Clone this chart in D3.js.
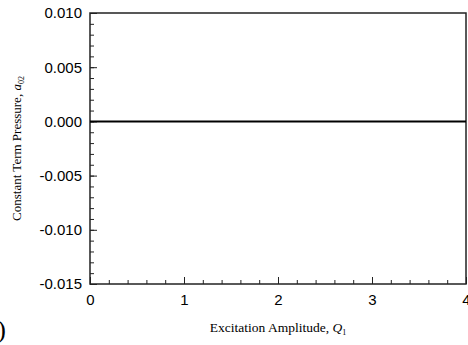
<!DOCTYPE html>
<html>
<head>
<meta charset="utf-8">
<script src="https://cdn.jsdelivr.net/npm/d3@7"></script>
<style>
  body { margin: 0; background: #fff; }
  svg { display: block; }
</style>
</head>
<body>
<div id="chart"></div>
<script>
// data: constant term stays at zero
var amplitude = [0, 0.5, 1, 1.5, 2, 2.5, 3, 3.5, 4];
var a02 = [0, 0, 0, 0, 0, 0, 0, 0, 0];
var xTicks = [0, 1, 2, 3, 4];
var yTicks = [-0.015, -0.010, -0.005, 0.000, 0.005, 0.010];

var width = 468;
var height = 345;
var margin = { top: 13, right: 2, bottom: 61, left: 90 };

var svg = d3.select("#chart").append("svg")
    .attr("width", width)
    .attr("height", height);

var x = d3.scaleLinear().domain([0, 4]).range([margin.left, width - margin.right]);
var y = d3.scaleLinear().domain([-0.015, 0.010]).range([height - margin.bottom, margin.top]);

var axisColor = "#222";
var sans = "'Liberation Sans', Arial, sans-serif";
var serif = "'Liberation Serif', 'Times New Roman', serif";

// minor ticks
var xMinor = d3.range(0, 4.0001, 0.2);
var yMinor = d3.range(-0.015, 0.0100001, 0.001);

var fmtY = function (d) { return d3.format(".3f")(d).replace("\u2212", "-"); };

var xAxis = d3.axisBottom(x).tickValues(xTicks).tickFormat(d3.format("d")).tickSize(-7).tickPadding(10);
var xAxisMinor = d3.axisBottom(x).tickValues(xMinor).tickFormat("").tickSize(-4);
var yAxis = d3.axisLeft(y).tickValues(yTicks).tickFormat(fmtY).tickSize(-7).tickPadding(8);
var yAxisMinor = d3.axisLeft(y).tickValues(yMinor).tickFormat("").tickSize(-4);

function styleAxis(g) {
    g.select(".domain").remove();
    g.selectAll("line").attr("stroke", axisColor).attr("stroke-width", 1);
    g.selectAll("text")
        .attr("fill", "#000")
        .style("font-family", sans)
        .style("font-size", "15px");
}

svg.append("g").attr("transform", "translate(0," + y.range()[0] + ")").call(xAxisMinor).call(styleAxis);
svg.append("g").attr("transform", "translate(0," + y.range()[0] + ")").call(xAxis).call(styleAxis);
svg.append("g").attr("transform", "translate(" + x.range()[0] + ",0)").call(yAxisMinor).call(styleAxis);
svg.append("g").attr("transform", "translate(" + x.range()[0] + ",0)").call(yAxis).call(styleAxis);

// frame
svg.append("rect")
    .attr("x", x.range()[0])
    .attr("y", y.range()[1])
    .attr("width", x.range()[1] - x.range()[0])
    .attr("height", y.range()[0] - y.range()[1])
    .attr("fill", "none")
    .attr("stroke", axisColor)
    .attr("stroke-width", 1.5);

// series
var line = d3.line()
    .x(function (d, i) { return x(amplitude[i]); })
    .y(function (d) { return y(d); });

svg.append("path")
    .datum(a02)
    .attr("d", line)
    .attr("fill", "none")
    .attr("stroke", "#000")
    .attr("stroke-width", 2);

// axis titles
var xt = svg.append("text")
    .attr("x", (x.range()[0] + x.range()[1]) / 2)
    .attr("y", 332)
    .attr("text-anchor", "middle")
    .style("font-family", serif)
    .style("font-size", "13.5px")
    .text("Excitation Amplitude, ");
xt.append("tspan").style("font-style", "italic").text("Q");
xt.append("tspan").attr("dy", 3).style("font-size", "8px").text("1");

var yt = svg.append("text")
    .attr("transform", "translate(21," + (y.range()[0] + y.range()[1]) / 2 + ") rotate(-90)")
    .attr("text-anchor", "middle")
    .style("font-family", serif)
    .style("font-size", "13px")
    .text("Constant Term Pressure, ");
yt.append("tspan").style("font-style", "italic").text("a");
yt.append("tspan").attr("dy", 3).style("font-size", "8px").text("02");

// panel label, cut off at the left edge as in the source figure
svg.append("text")
    .attr("x", 6)
    .attr("y", 338)
    .attr("text-anchor", "end")
    .style("font-family", serif)
    .style("font-size", "26px")
    .text("(b)");
</script>
</body>
</html>
